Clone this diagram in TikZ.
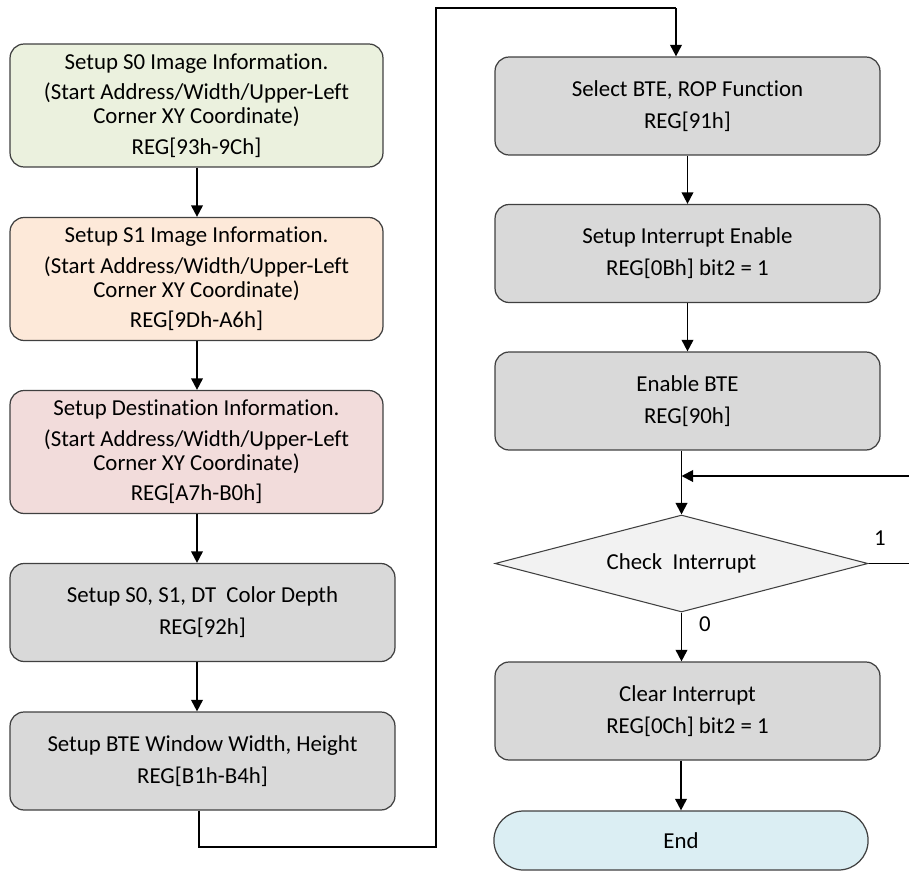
\documentclass[tikz,border=0pt]{standalone}
\usepackage{fontspec}
\setmainfont[Ligatures=NoCommon]{Carlito}
\usepackage{tikz}
\usetikzlibrary{arrows.meta,positioning,shapes.geometric,shapes.misc}
\definecolor{boxline}{HTML}{404040}
\definecolor{fillS0}{HTML}{EBF1DE}
\definecolor{fillS1}{HTML}{FDE9D9}
\definecolor{fillDT}{HTML}{F2DCDB}
\definecolor{fillgray}{HTML}{D9D9D9}
\definecolor{filldia}{HTML}{F2F2F2}
\definecolor{fillend}{HTML}{DBEEF3}
\newcommand{\boxfont}{\fontsize{13}{13.8}\selectfont}
\tikzset{
  stepbox/.style ={draw=boxline, rounded corners=8pt, line width=0.7pt,
                   align=center, inner sep=2pt, font=\boxfont},
  infobox/.style ={stepbox, minimum width=7.46cm, minimum height=2.46cm},
  regbox/.style  ={stepbox, fill=fillgray, minimum width=7.7cm,
                   minimum height=1.96cm},
  decide/.style  ={draw=boxline, diamond, aspect=3.85, fill=filldia,
                   line width=0.6pt, inner sep=0pt, minimum width=7.46cm,
                   minimum height=1.94cm, font=\boxfont},
  termbox/.style ={draw=boxline, rounded rectangle, fill=fillend,
                   line width=0.7pt, minimum width=7.72cm,
                   minimum height=1.18cm, font=\boxfont},
  flow/.style    ={-{Triangle[length=2.3mm,width=2.3mm]}, line width=1.1pt},
  wire/.style    ={line width=1.1pt},
  blbl/.style    ={font=\boxfont},
}

\begin{document}
\begin{tikzpicture}[x=0.02cm, y=-0.02cm]
  \useasboundingbox (0,0) rectangle (909,872);
  % left column
  \node[infobox, fill=fillS0] (s0) at (196.5,105.5)
    {Setup S0 Image Information.\\[3.5pt] (Start Address/Width/Upper-Left\\
     Corner XY Coordinate)\\[3.5pt] REG[93h-9Ch]};
  \node[infobox, fill=fillS1] (s1) at (196.5,279)
    {Setup S1 Image Information.\\[3.5pt] (Start Address/Width/Upper-Left\\
     Corner XY Coordinate)\\[3.5pt] REG[9Dh-A6h]};
  \node[infobox, fill=fillDT] (dt) at (196.5,452)
    {Setup Destination Information.\\[3.5pt] (Start Address/Width/Upper-Left\\
     Corner XY Coordinate)\\[3.5pt] REG[A7h-B0h]};
  \node[regbox] (depth) at (202.5,612.5)
    {Setup S0, S1, DT\ \ Color Depth\\[4.4pt] REG[92h]};
  \node[regbox] (win) at (202.5,761)
    {Setup BTE Window Width, Height\\[4.4pt] REG[B1h-B4h]};
  % right column
  \node[regbox] (rop) at (687.5,106)
    {Select BTE, ROP Function\\[4.4pt] REG[91h]};
  \node[regbox] (inten) at (687.5,253.5)
    {Setup Interrupt Enable\\[4.4pt] REG[0Bh] bit2 = 1};
  \node[regbox] (bte) at (687.5,401)
    {Enable BTE\\[4.4pt] REG[90h]};
  \node[decide] (chk) at (681.5,563.5) {Check\ \ Interrupt};
  \node[regbox] (clr) at (687.5,711)
    {Clear Interrupt\\[4.4pt] REG[0Ch] bit2 = 1};
  \node[termbox] (end) at (681,840.5) {End};

  \coordinate (turnA) at (199,847);
  \coordinate (turnB) at (436,847);
  \coordinate (turnC) at (436,8);
  \coordinate (turnD) at (676,8);
  \coordinate (merge) at (681.5,476);
  \coordinate (mergein) at (700,476);
  \coordinate (backA) at (915,563.5);
  \coordinate (backB) at (915,476);

  \draw[flow] (s0.south -| 197,0) -- (s1.north -| 197,0);
  \draw[flow] (s1.south -| 197,0) -- (dt.north -| 197,0);
  \draw[flow] (dt.south -| 197,0) -- (depth.north -| 197,0);
  \draw[flow] (depth.south -| 197,0) -- (win.north -| 197,0);
  \draw[wire] (win.south -| turnA) -- (turnA) -- (turnB) -- (turnC) -- (turnD);
  \draw[flow] (turnD) -- (rop.north -| turnD);
  \draw[flow] (rop.south) -- (inten.north);
  \draw[flow] (inten.south) -- (bte.north);
  \draw[flow] (bte.south -| chk) -- (chk.north);
  \draw[flow] (chk.south) -- (clr.north -| chk);
  \draw[flow] (clr.south -| end) -- (end.north);
  \begin{scope}
    \clip (0,0) rectangle (909,872);
    \draw[wire] (chk.east) -- (backA) -- (backB) -- (mergein);
  \end{scope}
  \draw[flow] (mergein) -- (merge);

  \node[blbl] (one) at (880,538) {1};
  \node[blbl] (zero) at (705,624) {0};
\end{tikzpicture}
\end{document}
